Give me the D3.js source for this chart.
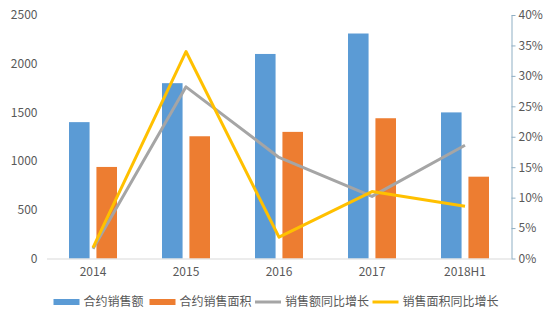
<!DOCTYPE html>
<html>
<head>
<meta charset="utf-8">
<script src="https://cdn.jsdelivr.net/npm/d3@7"></script>
<style>
  html, body { margin: 0; padding: 0; background: #fff; }
  svg text { font-family: "Noto Sans CJK SC", "Noto Sans", sans-serif; fill: #595959; }
</style>
</head>
<body>
<svg id="chart" width="554" height="323"></svg>
<script>
const categories = ["2014", "2015", "2016", "2017", "2018H1"];
const salesAmount = [1400, 1800, 2100, 2310, 1500];      // 合约销售额
const salesArea = [940, 1255, 1300, 1440, 840];           // 合约销售面积
const amountGrowth = [0.016, 0.282, 0.166, 0.102, 0.186]; // 销售额同比增长
const areaGrowth = [0.018, 0.34, 0.035, 0.11, 0.086];     // 销售面积同比增长
const leftTicks = [0, 500, 1000, 1500, 2000, 2500];
const rightTicks = [0, 0.05, 0.10, 0.15, 0.20, 0.25, 0.30, 0.35, 0.40];
const seriesNames = ["合约销售额", "合约销售面积", "销售额同比增长", "销售面积同比增长"];
const colors = ["#5B9BD5", "#ED7D31", "#A5A5A5", "#FFC000"];

const svg = d3.select("#chart");
const pLeft = 46.5, pRight = 511.5, pTop = 15, pBottom = 258.5;

const x = d3.scaleBand().domain(categories).range([pLeft, pRight]).padding(0);
const bw = x.bandwidth();
const x1 = d3.scaleBand().domain(["a", "b"]).range([bw / 2 - 24, bw / 2 + 24]).paddingInner(0.25);
const yL = d3.scaleLinear().domain([0, 2500]).range([pBottom, pTop]);
const yR = d3.scaleLinear().domain([0, 0.4]).range([pBottom, pTop]);

// Left axis (labels only)
const gL = svg.append("g").attr("transform", `translate(${pLeft},0)`)
  .call(d3.axisLeft(yL).tickValues(leftTicks).tickSize(0).tickPadding(9).tickFormat(d3.format("d")));
gL.select(".domain").remove();
gL.selectAll("text").attr("font-size", 12).style("font-family", '"Noto Sans CJK SC", sans-serif').attr("fill", "#595959");

// Right axis
const gR = svg.append("g").attr("transform", `translate(${pRight},0)`)
  .call(d3.axisRight(yR).tickValues(rightTicks).tickSize(4).tickPadding(3).tickSizeOuter(0).tickFormat(d3.format(".0%")));
gR.select(".domain").attr("stroke", "#8FAFC4");
gR.selectAll(".tick line").attr("stroke", "#8FAFC4");
gR.selectAll("text").attr("font-size", 12).style("font-family", '"Noto Sans CJK SC", sans-serif').attr("fill", "#595959");

// Bars
const bars = svg.append("g");
bars.selectAll(".b1").data(categories).join("rect")
  .attr("x", (d) => x(d) + x1("a"))
  .attr("width", x1.bandwidth())
  .attr("y", (d, i) => yL(salesAmount[i]))
  .attr("height", (d, i) => yL(0) - yL(salesAmount[i]))
  .attr("fill", colors[0]);
bars.selectAll(".b2").data(categories).join("rect")
  .attr("x", (d) => x(d) + x1("b"))
  .attr("width", x1.bandwidth())
  .attr("y", (d, i) => yL(salesArea[i]))
  .attr("height", (d, i) => yL(0) - yL(salesArea[i]))
  .attr("fill", colors[1]);

// Bottom axis
const gB = svg.append("g").attr("transform", `translate(0,${pBottom})`)
  .call(d3.axisBottom(x).tickSize(0).tickPadding(9).tickSizeOuter(0));
gB.select(".domain").attr("stroke", "#D9D9D9");
gB.selectAll("text").attr("font-size", 12).style("font-family", '"Noto Sans CJK SC", sans-serif').attr("fill", "#595959");

// Lines
const line = d3.line().x((d, i) => x(categories[i]) + bw / 2).y((d) => yR(d));
svg.append("path").datum(amountGrowth).attr("d", line)
  .attr("fill", "none").attr("stroke", colors[2]).attr("stroke-width", 3).attr("stroke-linejoin", "round");
svg.append("path").datum(areaGrowth).attr("d", line)
  .attr("fill", "none").attr("stroke", colors[3]).attr("stroke-width", 3).attr("stroke-linejoin", "round");

// Legend
const legendY = 302;
const legendItems = [
  { x: 53.5, type: "rect" },
  { x: 149.5, type: "rect" },
  { x: 255, type: "line" },
  { x: 372.5, type: "line" }
];
const lg = svg.append("g");
legendItems.forEach((it, i) => {
  if (it.type === "rect") {
    lg.append("rect").attr("x", it.x).attr("y", legendY - 3).attr("width", 26).attr("height", 6).attr("fill", colors[i]);
  } else {
    lg.append("line").attr("x1", it.x).attr("x2", it.x + 26).attr("y1", legendY).attr("y2", legendY)
      .attr("stroke", colors[i]).attr("stroke-width", 3);
  }
  lg.append("text").attr("x", it.x + 30).attr("y", legendY).attr("dy", "0.36em")
    .attr("font-size", 12).text(seriesNames[i]);
});
</script>
</body>
</html>
